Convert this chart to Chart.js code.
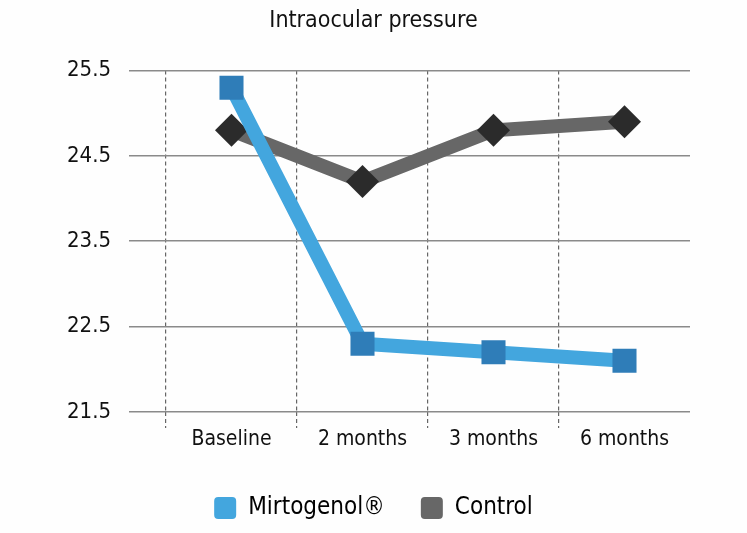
<!DOCTYPE html>
<html>
<head>
<meta charset="utf-8">
<script src="https://cdn.jsdelivr.net/npm/chart.js@4"></script>
<style>
  html, body { margin: 0; padding: 0; background: #fefefe; }
  #wrap { width: 747px; height: 533px; }
</style>
</head>
<body>
<div id="wrap"><canvas id="c"></canvas></div>
<script>
var categories = ['Baseline', '2 months', '3 months', '6 months'];
var mirtogenol = [25.3, 22.3, 22.2, 22.1];
var control = [24.8, 24.2, 24.8, 24.9];
var yTicks = [21.5, 22.5, 23.5, 24.5, 25.5];

var FONT = "'DejaVu Sans Condensed', 'Liberation Sans Narrow', 'Noto Sans', sans-serif";

var ctx = document.getElementById('c');
var chart = new Chart(ctx, {
    type: 'line',
    data: {
        labels: categories,
        datasets: [{
            label: 'Mirtogenol\u00AE',
            data: mirtogenol,
            borderColor: '#43a6de',
            backgroundColor: '#43a6de',
            borderWidth: 14,
            pointStyle: 'rect',
            pointRadius: 17,
            pointHoverRadius: 17,
            pointBackgroundColor: '#2f7db8',
            pointBorderWidth: 0,
            tension: 0,
            order: 1
        }, {
            label: 'Control',
            data: control,
            borderColor: '#676767',
            backgroundColor: '#676767',
            borderWidth: 14,
            pointStyle: 'rectRot',
            pointRadius: 16.5,
            pointHoverRadius: 16.5,
            pointBackgroundColor: '#2b2b2b',
            pointBorderWidth: 0,
            tension: 0,
            order: 2
        }]
    },
    options: {
        responsive: true,
        maintainAspectRatio: false,
        animation: false,
        layout: {
            padding: { left: 0, right: 0, top: 6, bottom: 3 }
        },
        plugins: {
            title: {
                display: true,
                text: 'Intraocular pressure',
                color: '#111',
                font: { family: FONT, size: 23, weight: 'normal' },
                padding: { top: 1, bottom: 36 }
            },
            legend: {
                position: 'bottom',
                labels: {
                    font: { family: FONT, size: 24 },
                    color: '#1a1a1a',
                    boxWidth: 22,
                    boxHeight: 22,
                    useBorderRadius: true,
                    borderRadius: 4,
                    padding: 36,
                    generateLabels: function(chart) {
                        return chart.data.datasets.map(function(ds, i) {
                            return {
                                text: ds.label,
                                fillStyle: ds.borderColor,
                                strokeStyle: ds.borderColor,
                                lineWidth: 0,
                                borderRadius: 4,
                                datasetIndex: i
                            };
                        });
                    }
                }
            },
            tooltip: { enabled: false }
        },
        scales: {
            x: {
                offset: true,
                afterFit: function(scale) { scale.height = 48; },
                grid: {
                    offset: true,
                    tickLength: 16,
                    color: function(c) {
                        return c.type === 'tick' ? '#666' : 'rgba(0,0,0,0)';
                    },
                    tickColor: function(c) {
                        return c.type === 'tick' ? '#666' : 'rgba(0,0,0,0)';
                    },
                    tickBorderDash: [4, 3],
                    lineWidth: 1.2
                },
                border: { display: false, dash: [4, 3] },
                ticks: {
                    color: '#111',
                    font: { family: FONT, size: 21 },
                    padding: -1
                }
            },
            y: {
                min: 21.5,
                max: 25.5,
                afterFit: function(scale) { scale.width = 166; },
                afterBuildTicks: function(scale) {
                    scale.ticks = yTicks.map(function(v) { return { value: v }; });
                },
                grid: {
                    color: '#8a8a8a',
                    lineWidth: 1.6,
                    tickLength: 37
                },
                border: { display: false },
                ticks: {
                    color: '#111',
                    font: { family: FONT, size: 22 },
                    padding: 18,
                    callback: function(v) { return v.toFixed(1); }
                }
            },
            // empty right axis, only reserves the right margin
            yr: {
                position: 'right',
                afterFit: function(scale) { scale.width = 57; },
                grid: { display: false },
                border: { display: false },
                ticks: { display: false }
            }
        }
    }
});
</script>
</body>
</html>
